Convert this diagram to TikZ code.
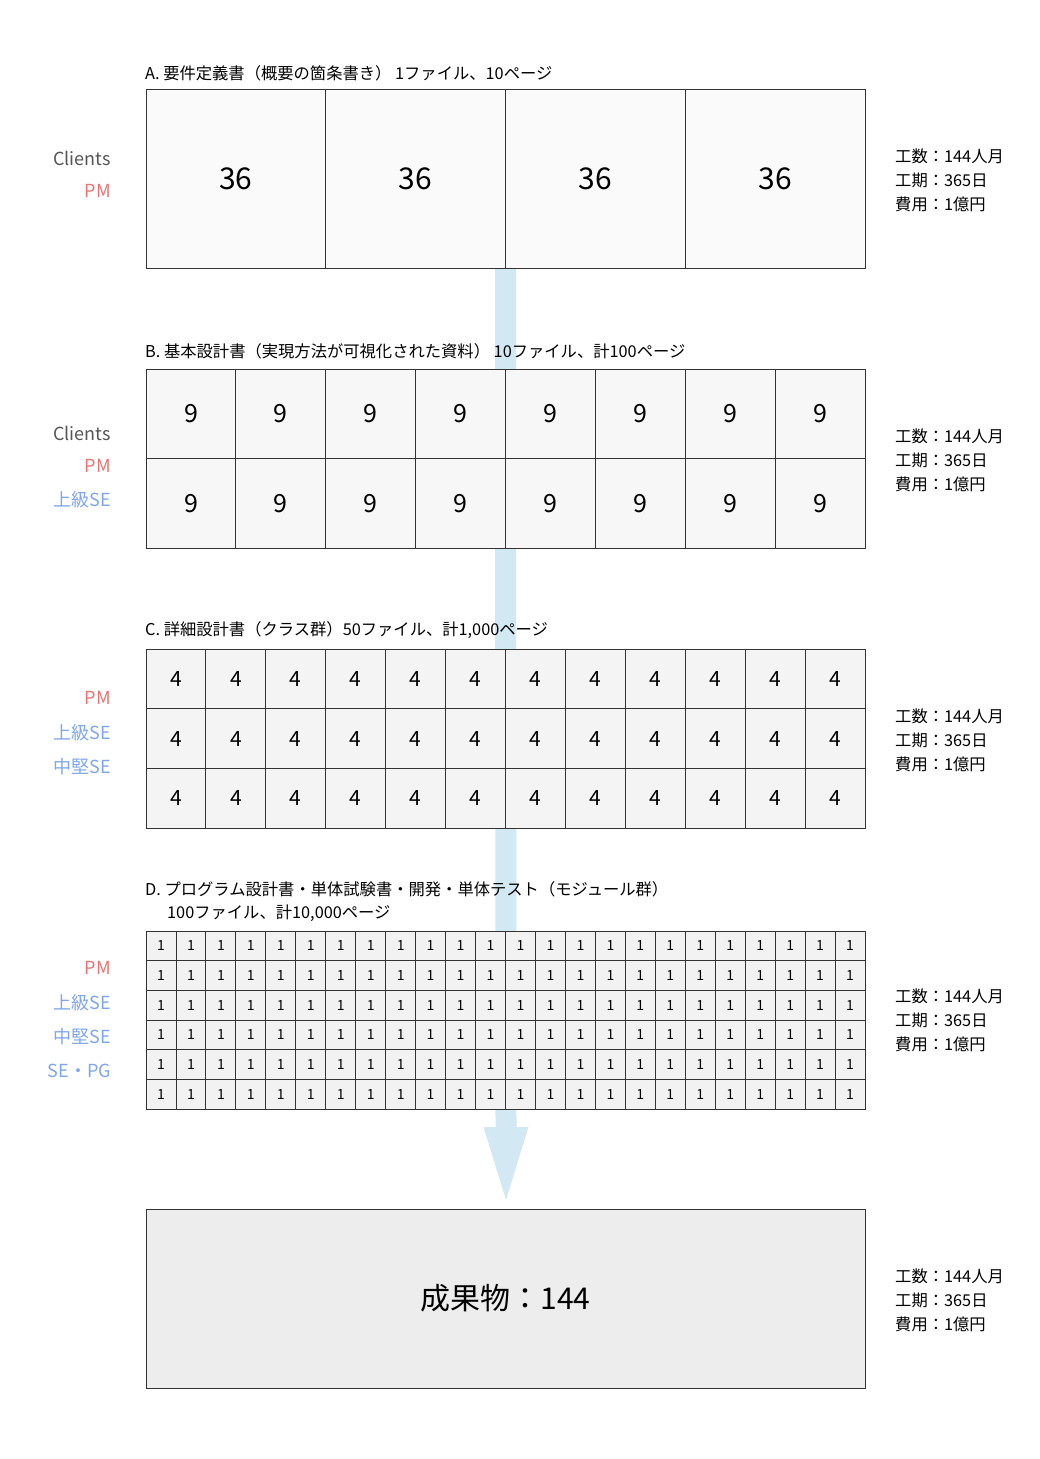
\documentclass[tikz,border=0pt]{standalone}
\usepackage{fontspec}
\setmainfont{Noto Sans CJK JP}
\usetikzlibrary{backgrounds,calc}
\definecolor{linec}{HTML}{333333}
\definecolor{arrowc}{HTML}{D2E8F2}
\definecolor{fillA}{HTML}{FAFAFA}
\definecolor{fillB}{HTML}{F7F7F7}
\definecolor{fillC}{HTML}{F4F4F4}
\definecolor{fillD}{HTML}{F2F2F2}
\definecolor{fillE}{HTML}{EDEDED}
\definecolor{clientc}{HTML}{555555}
\definecolor{pmc}{HTML}{E87474}
\definecolor{sec}{HTML}{7FA6EA}
\tikzset{
  cell/.style={draw=linec, line width=0.9pt, inner sep=0pt, outer sep=0pt, text=black},
  title/.style={anchor=west, inner sep=0pt, font=\fontsize{16.3}{24}\selectfont},
  info/.style={anchor=west, inner sep=0pt, align=left, font=\fontsize{16.3}{24}\selectfont},
  role/.style={anchor=east, inner sep=0pt, font=\fontsize{18}{20}\selectfont},
}
\begin{document}
\begin{tikzpicture}[x=1pt,y=-1pt]
\useasboundingbox (0,0) rectangle (1040,1459);
% ---- A
\node[title] (tA) at (145,73) {A. 要件定義書（概要の箇条書き） 1ファイル、10ページ};
\foreach \i in {0,...,3}{
  \node[cell, fill=fillA, minimum width=179.75, minimum height=179, font=\fontsize{30}{30}\selectfont]
    (A-\i) at ({235.875+179.75*\i},178.5) {36};
}
\node[info] (iA) at (895,180) {工数：144人月\\工期：365日\\費用：1億円};
\node[role, text=clientc] (cA) at (111,158) {Clients};
\node[role, text=pmc] (pA) at (111,191) {PM};
% ---- B
\node[title] (tB) at (145,351) {B. 基本設計書（実現方法が可視化された資料） 10ファイル、計100ページ};
\foreach \r in {0,1}{
  \foreach \i in {0,...,7}{
    \node[cell, fill=fillB, minimum width=89.875, minimum height=89.5, font=\fontsize{25}{25}\selectfont]
      (B-\r-\i) at ({190.94+89.875*\i},{413.75+89.5*\r}) {9};
  }
}
\node[info] (iB) at (895,460) {工数：144人月\\工期：365日\\費用：1億円};
\node[role, text=clientc] (cB) at (111,433) {Clients};
\node[role, text=pmc] (pB) at (111,466) {PM};
\node[role, text=sec] (sB) at (111,500) {上級SE};
% ---- C
\node[title] (tC) at (145,630) {C. 詳細設計書（クラス群）50ファイル、計1,000ページ};
\foreach \r in {0,1,2}{
  \foreach \i in {0,...,11}{
    \node[cell, fill=fillC, minimum width=59.92, minimum height=59.7, font=\fontsize{21}{21}\selectfont]
      (C-\r-\i) at ({175.96+59.92*\i},{678.85+59.7*\r}) {4};
  }
}
\node[info] (iC) at (895,740) {工数：144人月\\工期：365日\\費用：1億円};
\node[role, text=pmc] (pC) at (111,698) {PM};
\node[role, text=sec] (sC) at (111,733) {上級SE};
\node[role, text=sec] (mC) at (111,767) {中堅SE};
% ---- D
\node[title] (tD) at (145,889) {D. プログラム設計書・単体試験書・開発・単体テスト（モジュール群）};
\node[title] (tD2) at (167,913) {100ファイル、計10,000ページ};
\foreach \r in {0,...,5}{
  \foreach \i in {0,...,23}{
    \node[cell, fill=fillD, minimum width=29.96, minimum height=29.7, font=\fontsize{14}{14}\selectfont]
      (D-\r-\i) at ({160.98+29.96*\i},{945.85+29.7*\r}) {1};
  }
}
\node[info] (iD) at (895,1020) {工数：144人月\\工期：365日\\費用：1億円};
\node[role, text=pmc] (pD) at (111,968) {PM};
\node[role, text=sec] (sD) at (111,1003) {上級SE};
\node[role, text=sec] (mD) at (111,1037) {中堅SE};
\node[role, text=sec] (gD) at (111,1071) {SE・PG};
% ---- Result
\node[cell, fill=fillE, minimum width=719, minimum height=179, font=\fontsize{30}{30}\selectfont]
  (F) at (505.5,1298.5) {成果物：144};
\node[info] (iF) at (895,1300) {工数：144人月\\工期：365日\\費用：1億円};
% ---- arrow
\coordinate (shaftTop) at (A-1.south east);
\coordinate (tip) at ($(F.north)+(0.5,-9)$);
\begin{pgfonlayer}{background}
  \fill[arrowc] ($(shaftTop)+(-10.5,0)$) -- ($(shaftTop)+(10.5,0)$)
    -- ($(tip)+(10.5,-73)$) -- ($(tip)+(22.5,-73)$) -- (tip)
    -- ($(tip)+(-22.5,-73)$) -- ($(tip)+(-10.5,-73)$) -- cycle;
\end{pgfonlayer}
\end{tikzpicture}
\end{document}
